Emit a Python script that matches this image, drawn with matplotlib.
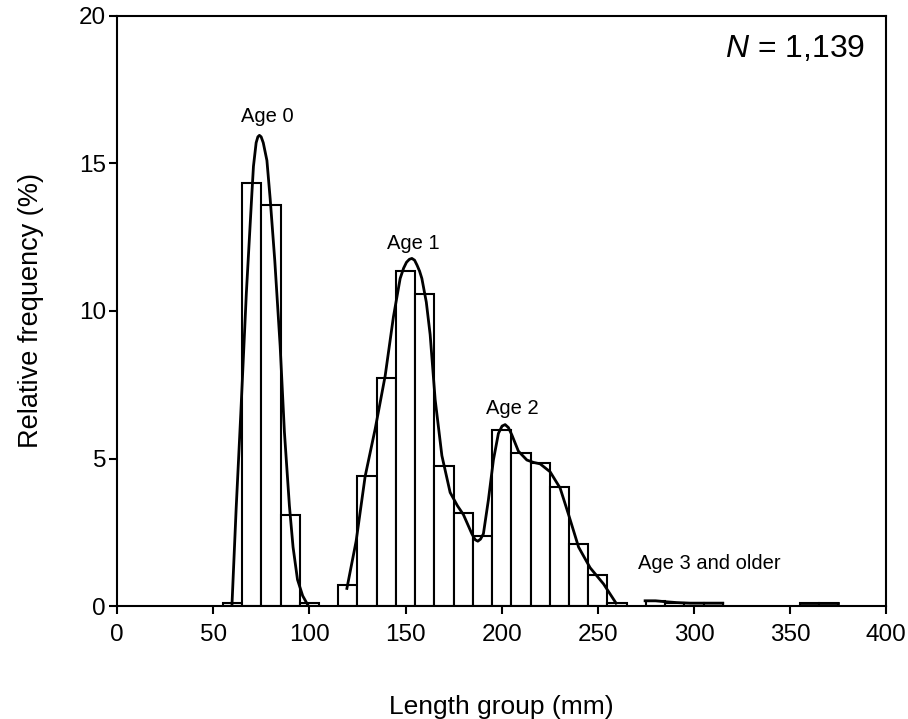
import matplotlib
matplotlib.use("Agg")
import matplotlib.pyplot as plt

plt.rcParams["font.family"] = ["Liberation Sans", "DejaVu Sans"]
plt.rcParams["mathtext.fontset"] = "custom"
plt.rcParams["mathtext.rm"] = "Liberation Sans"
plt.rcParams["mathtext.it"] = "Liberation Sans:italic"

# length-group midpoints (mm) and relative frequency (%)
BIN_MID = [60, 70, 80, 90, 100, 120, 130, 140, 150, 160, 170, 180, 190, 200,
           210, 220, 230, 240, 250, 260, 280, 290, 300, 310, 360, 370]
FREQ = [0.1, 14.35, 13.6, 3.08, 0.1, 0.7, 4.4, 7.74, 11.36, 10.56, 4.75, 3.16,
        2.37, 5.97, 5.2, 4.86, 4.05, 2.1, 1.05, 0.1, 0.18, 0.1, 0.1, 0.1,
        0.1, 0.1]

# fitted curves
AGE0_X = [59.7, 61.9, 64.3, 67.2, 70.1, 70.9, 72.3, 73.2, 74.0, 74.9, 76.0,
          77.9, 79.6, 82.0, 84.8, 87.0, 89.6, 91.5, 93.8, 96.5, 99.5]
AGE0_Y = [0.0, 3.3, 6.5, 10.6, 14.0, 14.9, 15.7, 15.9, 15.95, 15.9, 15.7,
          15.1, 13.8, 11.7, 8.8, 5.9, 3.4, 2.0, 0.9, 0.35, 0.0]
AGE12_X = [119.5, 124.3, 129.0, 134.2, 139.4, 143.7, 147.2, 149.0, 150.5,
           152.0, 153.3, 154.7, 156.0, 157.3, 158.5, 160.8, 162.8, 165.4,
           168.9, 173.2, 177.0, 180.1, 184.5, 186.2, 187.6, 189.0, 190.5,
           193.1, 195.7, 198.3, 200.2, 201.8, 203.5, 205.3, 208.7, 213.1,
           216.5, 220.0, 225.2, 230.4, 234.8, 240.0, 246.0, 253.0, 259.5]
AGE12_Y = [0.6, 2.2, 4.4, 6.0, 7.8, 9.8, 11.1, 11.45, 11.65, 11.75, 11.78,
           11.72, 11.55, 11.35, 11.1, 10.3, 9.2, 7.0, 5.1, 3.85, 3.4, 3.1,
           2.45, 2.25, 2.2, 2.27, 2.45, 3.6, 4.95, 5.85, 6.1, 6.15, 6.05, 5.8,
           5.25, 4.95, 4.87, 4.82, 4.55, 4.0, 3.1, 2.0, 1.3, 0.75, 0.1]
AGE3_X = [274.6, 280.0, 285.0, 291.0, 298.0, 315.0]
AGE3_Y = [0.18, 0.18, 0.15, 0.12, 0.1, 0.1]
AGE3B_X = [355.0, 375.0]
AGE3B_Y = [0.1, 0.1]

LABELS = [("Age 0", 78.3, 16.6), ("Age 1", 154.0, 12.3),
          ("Age 2", 205.5, 6.68), ("Age 3 and older", 308.0, 1.46)]

fig = plt.figure(figsize=(9.08, 7.19), dpi=100)
ax = fig.add_axes([0.129, 0.157, 0.847, 0.821])

ax.bar(BIN_MID, FREQ, width=10, color="white", edgecolor="black",
       linewidth=1.5, zorder=2)
for xs, ys in ((AGE0_X, AGE0_Y), (AGE12_X, AGE12_Y), (AGE3_X, AGE3_Y),
               (AGE3B_X, AGE3B_Y)):
    ax.plot(xs, ys, color="black", lw=2, zorder=3, solid_joinstyle="round")

for txt, x, y in LABELS:
    ax.text(x, y, txt, ha="center", va="center", fontsize=14.5)
ax.text(0.9727, 0.931, r"$N$ = 1,139", transform=ax.transAxes,
        ha="right", va="baseline", fontsize=23)

ax.set_xlim(0, 400)
ax.set_ylim(0, 20)
ax.set_xticks(range(0, 401, 50))
ax.set_yticks(range(0, 21, 5))
ax.tick_params(direction="out", length=6, width=1.5, labelsize=17.5)
ax.tick_params(axis="x", pad=7)
ax.tick_params(axis="y", pad=2)
for s in ax.spines.values():
    s.set_linewidth(1.5)
ax.set_xlabel("Length group (mm)", fontsize=19, labelpad=35)
ax.set_ylabel("Relative frequency (%)", fontsize=19.5, labelpad=25)

fig.savefig("out.png", dpi=100)
